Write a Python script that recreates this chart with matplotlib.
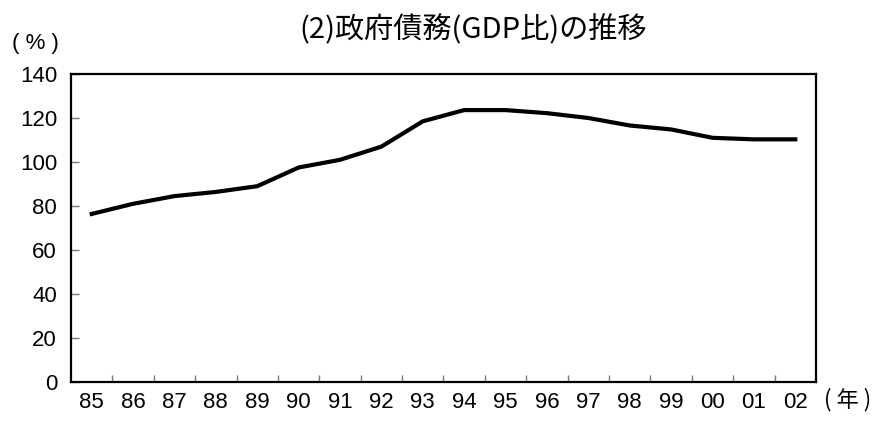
import matplotlib
matplotlib.use('Agg')
import matplotlib.pyplot as plt
import numpy as np

plt.rcParams['font.family'] = ['Liberation Sans', 'Noto Sans CJK JP', 'DejaVu Sans']

years = ['85', '86', '87', '88', '89', '90', '91', '92', '93', '94',
         '95', '96', '97', '98', '99', '00', '01', '02']
debt = [76.4, 81.0, 84.5, 86.4, 89.0, 97.5, 101.0, 107.0, 118.5, 123.6,
        123.6, 122.2, 120.0, 116.6, 114.8, 111.0, 110.3, 110.3]

fig = plt.figure(figsize=(8.81, 4.32), dpi=100)
ax = fig.add_axes([0.0806, 0.1157, 0.8456, 0.713])

x = np.arange(len(years))
ax.plot(x, debt, color='black', lw=3.0, solid_joinstyle='round')

ax.set_xlim(-0.5, len(years) - 0.5)
ax.set_ylim(0, 140)
ax.set_yticks(range(0, 141, 20))
ax.set_xticks(x)
ax.set_xticklabels(years)
ax.set_xticks(np.arange(0.5, len(years) - 1, 1), minor=True)

ax.tick_params(axis='x', which='major', length=0, pad=7, labelsize=16)
ax.tick_params(axis='x', which='minor', direction='in', length=5, width=1, color='#777777')
ax.tick_params(axis='y', direction='in', length=6, width=1, color='#777777', labelsize=16, pad=10)

for s in ax.spines.values():
    s.set_linewidth(1.6)
    s.set_color('black')

fig.text(0.537, 0.93, '(2)政府債務(GDP比)の推移', ha='center', va='center', fontsize=21,
         family=['Noto Sans CJK JP', 'DejaVu Sans'])
fig.text(0.04, 0.9, '( % )', ha='center', va='center', fontsize=16)
fig.text(0.962, 0.074, '( 年 )', ha='center', va='center', fontsize=16,
         family=['Noto Sans CJK JP', 'DejaVu Sans'])

plt.savefig('out.png', dpi=100)
